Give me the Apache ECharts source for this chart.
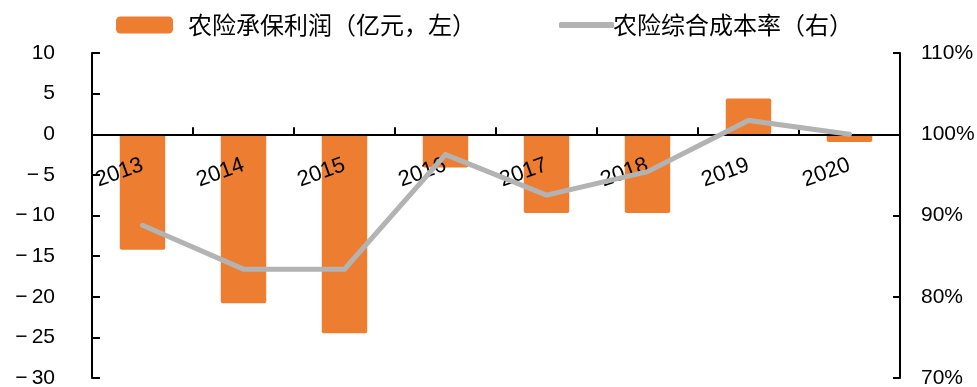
<!DOCTYPE html>
<html>
<head>
<meta charset="utf-8">
<script src="https://cdn.jsdelivr.net/npm/echarts@6/dist/echarts.min.js"></script>
<style>
  html, body { margin: 0; padding: 0; background: #fff; }
  #chart { width: 977px; height: 387px; }
</style>
</head>
<body>
<div id="chart"></div>
<script>
// Agricultural insurance: underwriting profit (bars, left axis) and combined ratio (line, right axis)
const years = ['2013', '2014', '2015', '2016', '2017', '2018', '2019', '2020'];
const underwritingProfit = [-14.2, -20.8, -24.5, -4.1, -9.7, -9.7, 4.4, -0.95];   // 亿元
const combinedRatio = [88.8, 83.4, 83.4, 97.5, 92.5, 95.4, 101.7, 100.0];         // %
const leftTicks = { min: -30, max: 10, interval: 5 };
const rightTicks = { min: 70, max: 110, interval: 10 };

const barName = '农险承保利润（亿元，左）';
const lineName = '农险综合成本率（右）';

const cjk = '"Noto Sans CJK SC", sans-serif';
const num = '"Liberation Sans", Arial, sans-serif';
const axisLine = { show: true, lineStyle: { color: '#000', width: 2 } };

const grid = { left: 92, right: 77, top: 53, bottom: 9 };
const plotHeight = 387 - grid.top - grid.bottom;
// distance from the bottom edge of the plot up to the zero line of the left axis
const zeroLift = plotHeight * (0 - leftTicks.min) / (leftTicks.max - leftTicks.min);

const chart = echarts.init(document.getElementById('chart'));
chart.setOption({
  animation: false,
  backgroundColor: '#fff',
  legend: [
    {
      data: [barName],
      left: 111, top: 8,
      itemWidth: 57, itemHeight: 17, itemGap: 0,
      icon: 'roundRect',
      textStyle: { fontFamily: cjk, fontSize: 24, color: '#000', padding: [0, 0, 0, 10] }
    },
    {
      data: [{ name: lineName, icon: 'roundRect' }],
      left: 554, top: 8,
      itemWidth: 55, itemHeight: 6, itemGap: 0,
      textStyle: { fontFamily: cjk, fontSize: 24, color: '#000', padding: [0, 0, 0, -6] }
    }
  ],
  grid: Object.assign({ containLabel: false, outerBoundsMode: 'none' }, grid),
  xAxis: [
    {
      // axis line and ticks sitting on the zero line
      type: 'category',
      data: years,
      z: 3,
      axisLine: { show: true, onZero: true, onZeroAxisIndex: 0, lineStyle: { color: '#000', width: 2 } },
      axisTick: { show: true, inside: true, length: 7, lineStyle: { color: '#000', width: 2 } },
      axisLabel: { show: false },
      splitLine: { show: false }
    },
    {
      // year labels hanging just under the zero line
      type: 'category',
      data: years,
      position: 'bottom',
      offset: -zeroLift,
      z: 3,
      axisLine: { show: false, onZero: false },
      axisTick: { show: false },
      axisLabel: { rotate: 20, margin: 30, fontFamily: num, fontSize: 22, color: '#000', interval: 0 },
      splitLine: { show: false }
    }
  ],
  yAxis: [
    {
      type: 'value',
      min: leftTicks.min, max: leftTicks.max, interval: leftTicks.interval,
      axisLine: axisLine,
      axisTick: { show: true, inside: true, length: 8, lineStyle: { color: '#000', width: 2 } },
      axisLabel: {
        margin: 37, fontFamily: num, fontSize: 21, color: '#000',
        formatter: v => String(v).replace('-', '\u2212\u2009')
      },
      splitLine: { show: false }
    },
    {
      type: 'value',
      min: rightTicks.min, max: rightTicks.max, interval: rightTicks.interval,
      axisLine: axisLine,
      axisTick: { show: true, inside: true, length: 7, lineStyle: { color: '#000', width: 2 } },
      axisLabel: { margin: 21, fontFamily: num, fontSize: 21, color: '#000', formatter: v => v + '%' },
      splitLine: { show: false }
    }
  ],
  series: [
    {
      name: barName,
      type: 'bar',
      xAxisIndex: 0,
      yAxisIndex: 0,
      data: underwritingProfit,
      barWidth: '45%',
      z: 2,
      itemStyle: { color: '#ED7D31', borderRadius: 2 }
    },
    {
      name: lineName,
      type: 'line',
      xAxisIndex: 0,
      yAxisIndex: 1,
      data: combinedRatio,
      z: 5,
      symbol: 'none',
      lineStyle: { color: '#B3B3B3', width: 5, cap: 'round', join: 'miter' },
      itemStyle: { color: '#B3B3B3' }
    }
  ]
});
</script>
</body>
</html>
